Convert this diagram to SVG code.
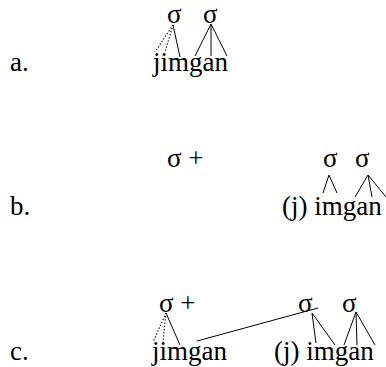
<svg xmlns="http://www.w3.org/2000/svg" width="386" height="367" viewBox="0 0 386 367">
<rect width="386" height="367" fill="#fff"/>
<g font-family="Liberation Serif, serif" font-size="27" fill="#000">
<g id="labels">
<text x="10" y="71">a.</text>
<text x="10" y="215">b.</text>
<text x="10" y="360">c.</text>
</g>
<g id="row-a">
<text x="167" y="23">σ</text>
<text x="203" y="23">σ</text>
<text x="153" y="71">jimgan</text>
</g>
<g id="row-b-left">
<text x="167" y="167">σ +</text>
</g>
<g id="row-b-right">
<text x="323" y="167">σ</text>
<text x="355" y="167">σ</text>
<text x="282" y="215">(j) imgan</text>
</g>
<g id="row-c-left">
<text x="159" y="312">σ +</text>
<text x="152" y="360">jimgan</text>
</g>
<g id="row-c-right">
<text x="298" y="312">σ</text>
<text x="342" y="312">σ</text>
<text x="274" y="360">(j) imgan</text>
</g>
</g>
<g id="connectors" stroke="#000" stroke-width="1" fill="none">
<g stroke-width="1.2" stroke-dasharray="1.2,2">
<line x1="173" y1="25" x2="155" y2="52"/>
<line x1="173" y1="25" x2="165" y2="52"/>
<line x1="166" y1="313" x2="153" y2="342"/>
<line x1="166" y1="313" x2="163" y2="342"/>
</g>
<line x1="173" y1="25" x2="180" y2="57"/>
<line x1="211" y1="24" x2="195" y2="56"/>
<line x1="211" y1="24" x2="211" y2="56"/>
<line x1="211" y1="24" x2="227" y2="56"/>
<line x1="329" y1="175" x2="323" y2="193"/>
<line x1="329" y1="175" x2="337" y2="193"/>
<line x1="368" y1="175" x2="355" y2="197"/>
<line x1="368" y1="175" x2="372" y2="197"/>
<line x1="368" y1="175" x2="386" y2="197"/>
<line x1="166" y1="313" x2="180" y2="345"/>
<line x1="197" y1="341" x2="318" y2="308"/>
<line x1="312" y1="313" x2="316" y2="343"/>
<line x1="312" y1="313" x2="335" y2="345"/>
<line x1="356" y1="312" x2="344" y2="345"/>
<line x1="356" y1="312" x2="357" y2="345"/>
<line x1="356" y1="312" x2="375" y2="345"/>
</g>
</svg>
